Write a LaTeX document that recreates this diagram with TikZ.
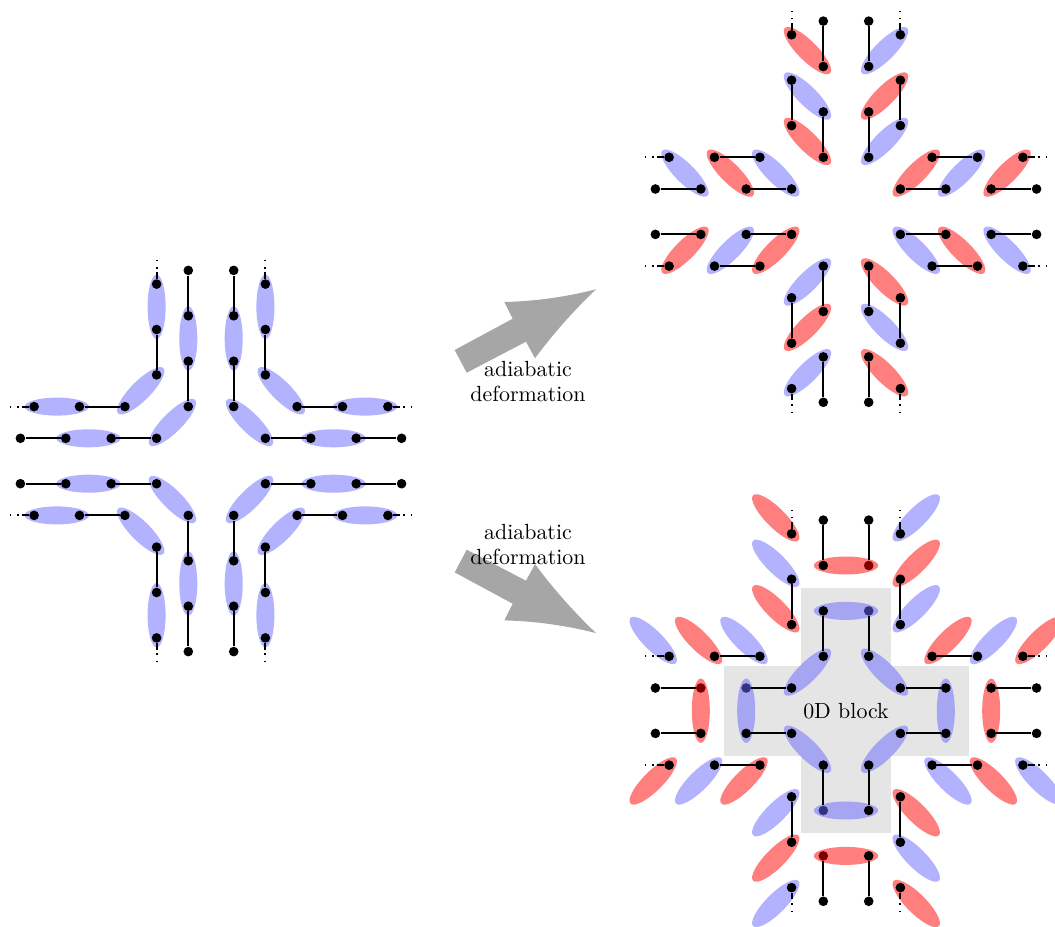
\documentclass[tikz,border=0pt]{standalone}
\pgfdeclarelayer{block}
\pgfdeclarelayer{under}
\pgfdeclarelayer{ell}
\pgfsetlayers{block,under,ell,main}
\tikzset{
  dotnode/.style={circle,fill=black,inner sep=0pt,minimum size=4.4pt},
  wire/.style={draw=black,line width=0.9pt},
  stub/.style={draw=black,line width=0.9pt,dash pattern=on 3pt off 1.6pt on 0.8pt off 2.7pt on 0.8pt off 5pt},
  blueell/.style={fill=blue!60,fill opacity=0.5},
  redell/.style={fill=red,fill opacity=0.5},
  blockgray/.style={fill=black!10},
  bigarrow/.style={fill=black!35},
  caption/.style={align=center,inner sep=0pt,font=\fontsize{10}{11}\selectfont},
}
% dots lying under the central ellipses of the lower figure
\expandafter\def\csname tint:Ctrv2\endcsname{}
\expandafter\def\csname tint:Ctrv3\endcsname{}
\expandafter\def\csname tint:Ctlh2\endcsname{}
\expandafter\def\csname tint:Ctlh3\endcsname{}
\expandafter\def\csname tint:Cblv2\endcsname{}
\expandafter\def\csname tint:Cblv3\endcsname{}
\newcommand{\placedot}[3]{%
  \ifcsname tint:#1\endcsname
    \begin{pgfonlayer}{under}\node[dotnode] (#1) at (#2,#3) {};\end{pgfonlayer}%
  \else
    \node[dotnode] (#1) at (#2,#3) {};%
  \fi}
% one cross of dots and wires: prefix, centre x, centre y
\newcommand{\crossfig}[3]{%
  \foreach \sx/\qx in {-1/l,1/r}{\foreach \sy/\qy in {-1/t,1/b}{%
    \foreach \k in {1,2,3,4}{%
      \placedot{#1\qy\qx v\k}{{#2+\sx*22.7}}{{#3+\sy*(54.4+45.4*(\k-1))}}%
      \placedot{#1\qy\qx h\k}{{#2+\sx*(54.4+45.4*(\k-1))}}{{#3+\sy*22.7}}%
    }%
    \foreach \k in {1,2,3}{%
      \placedot{#1\qy\qx o\k}{{#2+\sx*54.4}}{{#3+\sy*(86.1+45.4*(\k-1))}}%
      \placedot{#1\qy\qx p\k}{{#2+\sx*(86.1+45.4*(\k-1))}}{{#3+\sy*54.4}}%
    }%
    \coordinate (#1\qy\qx vs) at ({#2+\sx*54.4},{#3+\sy*200.8});
    \coordinate (#1\qy\qx hs) at ({#2+\sx*200.8},{#3+\sy*54.4});
    \draw[wire] (#1\qy\qx v1) -- (#1\qy\qx v2);
    \draw[wire] (#1\qy\qx v3) -- (#1\qy\qx v4);
    \draw[wire] (#1\qy\qx h1) -- (#1\qy\qx h2);
    \draw[wire] (#1\qy\qx h3) -- (#1\qy\qx h4);
    \draw[wire] (#1\qy\qx o1) -- (#1\qy\qx o2);
    \draw[wire] (#1\qy\qx p1) -- (#1\qy\qx p2);
    \draw[stub] (#1\qy\qx o3) -- (#1\qy\qx vs);
    \draw[stub] (#1\qy\qx p3) -- (#1\qy\qx hs);
  }}}
% axis-parallel ellipse: style, x, y, angle
\newcommand{\oneell}[4]{%
  \begin{pgfonlayer}{ell}%
    \fill[#1,shift={(#2,#3)},rotate=#4] (0,0) ellipse (32.2 and 9);%
  \end{pgfonlayer}}
% diagonal ellipse: style, x, y, angle
\newcommand{\slantell}[4]{%
  \begin{pgfonlayer}{ell}%
    \fill[#1,shift={(#2,#3)},rotate=#4] (0,0) ellipse (32 and 9.8);%
  \end{pgfonlayer}}
% diagonal red/blue ellipses: centre x, centre y, cross offset, first along offset
\newcommand{\diagells}[4]{%
  \foreach \sx in {-1,1}{\foreach \sy in {-1,1}{%
    \ifnum\numexpr\sx*\sy\relax>0
      \def\cO{redell}\def\cM{blueell}\def\ang{-45}%
    \else
      \def\cO{blueell}\def\cM{redell}\def\ang{45}%
    \fi
    \slantell{\cO}{{#1+\sx*#3}}{{#2+\sy*#4}}{\ang}%
    \slantell{\cM}{{#1+\sx*#3}}{{#2+\sy*(#4+45.4)}}{\ang}%
    \slantell{\cO}{{#1+\sx*#3}}{{#2+\sy*(#4+90.8)}}{\ang}%
    \slantell{\cM}{{#1+\sx*#4}}{{#2+\sy*#3}}{\ang}%
    \slantell{\cO}{{#1+\sx*(#4+45.4)}}{{#2+\sy*#3}}{\ang}%
    \slantell{\cM}{{#1+\sx*(#4+90.8)}}{{#2+\sy*#3}}{\ang}%
  }}}
\begin{document}
\begin{tikzpicture}[x=0.4566pt,y=-0.4566pt]
\useasboundingbox (0,0) rectangle (1055,927);

% ---- left figure
\foreach \sx in {-1,1}{\foreach \sy in {-1,1}{%
  \pgfmathsetmacro{\ang}{\sx*\sy*45}
  \oneell{blueell}{{211+\sx*54.4}}{{461+\sy*154.2}}{90}%
  \oneell{blueell}{{211+\sx*22.7}}{{461+\sy*122.5}}{90}%
  \oneell{blueell}{{211+\sx*154.2}}{{461+\sy*54.4}}{0}%
  \oneell{blueell}{{211+\sx*122.5}}{{461+\sy*22.7}}{0}%
  \slantell{blueell}{{211+\sx*70.25}}{{461+\sy*70.25}}{\ang}%
  \slantell{blueell}{{211+\sx*38.55}}{{461+\sy*38.55}}{\ang}%
}}
\crossfig{L}{211}{461}

% ---- upper right figure
\diagells{846}{211.7}{38.55}{70.25}
\crossfig{U}{846}{211.7}

% ---- lower right figure
\begin{pgfonlayer}{block}
  \fill[blockgray] (801.3,588.3) rectangle (891.3,833.3);
  \fill[blockgray] (723.7,665.7) rectangle (968.7,755.7);
\end{pgfonlayer}
\diagells{846}{710.7}{70.25}{102}
\foreach \sx in {-1,1}{%
  \oneell{blueell}{846}{{710.7+\sx*99.8}}{0}%
  \oneell{redell}{846}{{710.7+\sx*145.2}}{0}%
  \oneell{blueell}{{846+\sx*99.8}}{710.7}{90}%
  \oneell{redell}{{846+\sx*145.2}}{710.7}{90}%
  \foreach \sy in {-1,1}{%
    \pgfmathsetmacro{\ang}{\sx*\sy*45}
    \slantell{blueell}{{846+\sx*38.55}}{{710.7+\sy*38.55}}{\ang}%
  }%
}
\crossfig{C}{846}{710.7}
\node[inner sep=0pt] (blocklabel) at (846,710.7) {0D block};

% ---- arrows
\fill[bigarrow] (454.7,350) -- (466.7,372.7) -- (526,341.7) -- (535,358.3)
  .. controls (553.3,333.6) and (573.7,310.6) .. (596,289.3)
  .. controls (565.3,297.1) and (534.8,301.3) .. (504.3,302) -- (512.7,318.7) -- cycle;
\fill[bigarrow] (454.7,572.4) -- (466.7,549.7) -- (526,580.7) -- (535,564.1)
  .. controls (553.3,588.8) and (573.7,611.8) .. (596,633.1)
  .. controls (565.3,625.3) and (534.8,621.1) .. (504.3,620.4) -- (512.7,603.7) -- cycle;
\node[caption] (captionA) at (528,381.5) {adiabatic\\deformation};
\node[caption] (captionB) at (528,544.5) {adiabatic\\deformation};
\end{tikzpicture}
\end{document}
